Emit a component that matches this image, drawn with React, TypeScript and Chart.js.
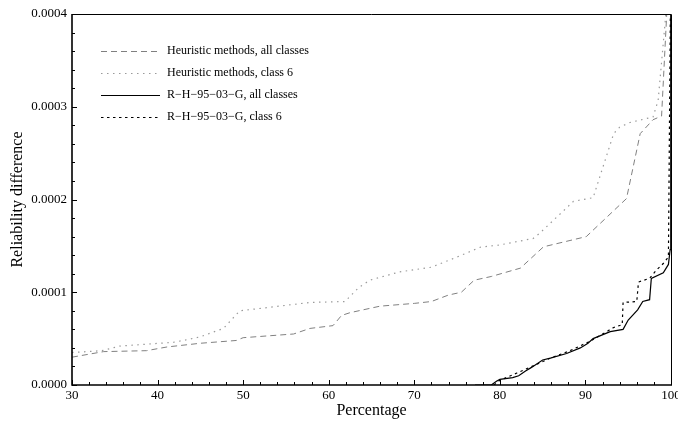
import React, { useEffect, useRef } from "react";
import { Chart, registerables } from "chart.js";
Chart.register(...registerables);

// ---- data (y values in units of 1e-4, converted when building datasets) ----
const heurAllX = [30, 33.7, 38.7, 41.1, 45, 49.2, 50, 55.9, 57.8, 60.5, 61.5, 62.5, 66, 70, 72, 74, 75.5, 77, 79, 82.4, 85.1, 90.1, 94.8, 96.4, 97.9, 98.9, 99.5, 99.7];
const heurAllY = [0.30, 0.36, 0.37, 0.41, 0.45, 0.48, 0.51, 0.55, 0.61, 0.64, 0.75, 0.78, 0.85, 0.88, 0.90, 0.97, 1.00, 1.13, 1.17, 1.26, 1.49, 1.60, 2.01, 2.71, 2.86, 2.90, 4.0, 4.3];

const heur6X = [30, 33.5, 35.6, 41.8, 43, 45, 47.7, 49.6, 52.4, 57.8, 61.9, 63.5, 64.8, 68.3, 72, 75, 77.7, 80, 83.9, 84.7, 88.6, 90.9, 93.3, 94, 95.2, 97.9, 98.5, 99.4, 99.6];
const heur6Y = [0.35, 0.37, 0.42, 0.46, 0.48, 0.52, 0.61, 0.80, 0.83, 0.89, 0.90, 1.05, 1.13, 1.22, 1.27, 1.38, 1.485, 1.51, 1.58, 1.64, 1.98, 2.02, 2.71, 2.78, 2.83, 2.89, 3.07, 4.0, 4.3];

const rhAllX = [77.1, 79, 79.6, 80, 81.5, 82.2, 83, 83.7, 85, 85.9, 87.8, 89.4, 90.3, 90.9, 92.9, 94.4, 95, 96.1, 96.7, 97.5, 97.7, 99.1, 99.7, 99.9, 99.97];
const rhAllY = [0, 0, 0.04, 0.06, 0.08, 0.10, 0.15, 0.19, 0.27, 0.29, 0.34, 0.40, 0.45, 0.50, 0.575, 0.60, 0.70, 0.81, 0.90, 0.92, 1.15, 1.21, 1.30, 1.46, 4.3];

const rh6X = [79.3, 80, 82, 84, 85.9, 88.2, 90.5, 92, 93.3, 94.3, 94.4, 96, 96.2, 97.5, 98.3, 99.1, 99.7, 99.95];
const rh6Y = [0, 0.05, 0.13, 0.21, 0.29, 0.37, 0.47, 0.55, 0.62, 0.65, 0.89, 0.90, 1.11, 1.15, 1.24, 1.31, 1.38, 4.3];

const legendLabels = [
  "Heuristic methods, all classes",
  "Heuristic methods, class 6",
  "R\u2212H\u221295\u221203\u2212G, all classes",
  "R\u2212H\u221295\u221203\u2212G, class 6",
];
const xTickValues = [30, 40, 50, 60, 70, 80, 90, 100];
const yTickValues = [0, 0.0001, 0.0002, 0.0003, 0.0004];
const xTitle = "Percentage";
const yTitle = "Reliability difference";

const FONT = "'Liberation Serif', 'Times New Roman', serif";

export default function App() {
  const ref = useRef<HTMLCanvasElement>(null);
  useEffect(() => {
    const pts = (xs: number[], ys: number[]) => xs.map((x, i) => ({ x, y: ys[i] * 1e-4 }));
    const datasets: any[] = [
      { label: legendLabels[0], data: pts(heurAllX, heurAllY), borderColor: "#808080", borderDash: [6, 4], borderWidth: 1 },
      { label: legendLabels[1], data: pts(heur6X, heur6Y), borderColor: "#9a9a9a", borderDash: [1.5, 4.5], borderWidth: 1.2 },
      { label: legendLabels[2], data: pts(rhAllX, rhAllY), borderColor: "#000000", borderDash: [], borderWidth: 1.2 },
      { label: legendLabels[3], data: pts(rh6X, rh6Y), borderColor: "#000000", borderDash: [2.5, 3.5], borderWidth: 1.2 },
    ].map((d) => ({ ...d, pointRadius: 0, tension: 0, fill: false }));

    const framePlugin = {
      id: "frame",
      afterDraw(chart: any) {
        const { ctx, chartArea } = chart;
        const { left, right, top, bottom } = chartArea;
        const xs = chart.scales.x;
        const ys = chart.scales.y;
        ctx.save();
        // frame
        ctx.strokeStyle = "#000";
        ctx.lineWidth = 1;
        ctx.beginPath();
        ctx.moveTo(left, top + 0.5);
        ctx.lineTo(right + 0.5, top + 0.5);
        ctx.lineTo(right + 0.5, bottom);
        ctx.stroke();
        ctx.lineWidth = 1.6;
        ctx.beginPath();
        ctx.moveTo(left, top);
        ctx.lineTo(left, bottom);
        ctx.lineTo(right + 1, bottom);
        ctx.stroke();
        // ticks
        ctx.lineWidth = 1;
        ctx.beginPath();
        for (let v = 30; v <= 100; v += 2) {
          const px = Math.round(xs.getPixelForValue(v)) + 0.5;
          const len = v % 10 === 0 ? 5 : 3;
          ctx.moveTo(px, bottom);
          ctx.lineTo(px, bottom - len);
        }
        for (let i = 0; i <= 20; i++) {
          const v = i * 0.00002;
          const py = Math.round(ys.getPixelForValue(v)) + 0.5;
          const len = i % 5 === 0 ? 5 : 3;
          ctx.moveTo(left, py);
          ctx.lineTo(left + len, py);
        }
        ctx.stroke();
        // axis titles
        ctx.fillStyle = "#000";
        ctx.font = `16px ${FONT}`;
        ctx.textAlign = "center";
        ctx.textBaseline = "middle";
        ctx.fillText(xTitle, (left + right) / 2, 411);
        ctx.save();
        ctx.translate(18, (top + bottom) / 2);
        ctx.rotate(-Math.PI / 2);
        ctx.fillText(yTitle, 0, 0);
        ctx.restore();
        // legend
        ctx.font = `12px ${FONT}`;
        ctx.textAlign = "left";
        chart.data.datasets.forEach((d: any, i: number) => {
          const y = 51 + i * 22;
          ctx.save();
          ctx.strokeStyle = d.borderColor;
          ctx.lineWidth = d.borderWidth;
          ctx.setLineDash(d.borderDash || []);
          ctx.beginPath();
          ctx.moveTo(101, y + 0.5);
          ctx.lineTo(160, y + 0.5);
          ctx.stroke();
          ctx.restore();
          ctx.fillStyle = "#000";
          ctx.fillText(d.label, 167, y);
        });
        ctx.restore();
      },
    };

    const chart = new Chart(ref.current as HTMLCanvasElement, {
      type: "line",
      data: { datasets },
      options: {
        responsive: false,
        animation: false,
        layout: { padding: { left: 0, right: 7, top: 14, bottom: 0 } },
        plugins: { legend: { display: false }, tooltip: { enabled: false } },
        scales: {
          x: {
            type: "linear",
            min: 30,
            max: 100,
            grid: { display: false, drawTicks: false },
            border: { display: false },
            ticks: {
              font: { family: FONT, size: 13 },
              color: "#000",
              padding: 3,
              maxRotation: 0,
              autoSkip: false,
              callback: (v: any) => String(v),
            },
            afterBuildTicks: (s: any) => {
              s.ticks = xTickValues.map((v) => ({ value: v }));
            },
            afterFit: (s: any) => {
              s.height = 43;
              s.paddingLeft = 0;
              s.paddingRight = 0;
            },
          },
          y: {
            type: "linear",
            min: 0,
            max: 0.0004,
            grid: { display: false, drawTicks: false },
            border: { display: false },
            ticks: {
              font: { family: FONT, size: 13 },
              color: "#000",
              padding: 5,
              autoSkip: false,
              callback: (v: any) => Number(v).toFixed(4),
            },
            afterBuildTicks: (s: any) => {
              s.ticks = yTickValues.map((v) => ({ value: v }));
            },
            afterFit: (s: any) => {
              s.width = 72;
              s.paddingTop = 0;
              s.paddingBottom = 0;
            },
          },
        },
      } as any,
      plugins: [framePlugin],
    });
    return () => chart.destroy();
  }, []);
  return (
    <div style={{ position: "fixed", left: 0, top: 0, width: 678, height: 428, background: "#fff" }}>
      <canvas ref={ref} width={678} height={428} style={{ display: "block", width: 678, height: 428 }} />
    </div>
  );
}
